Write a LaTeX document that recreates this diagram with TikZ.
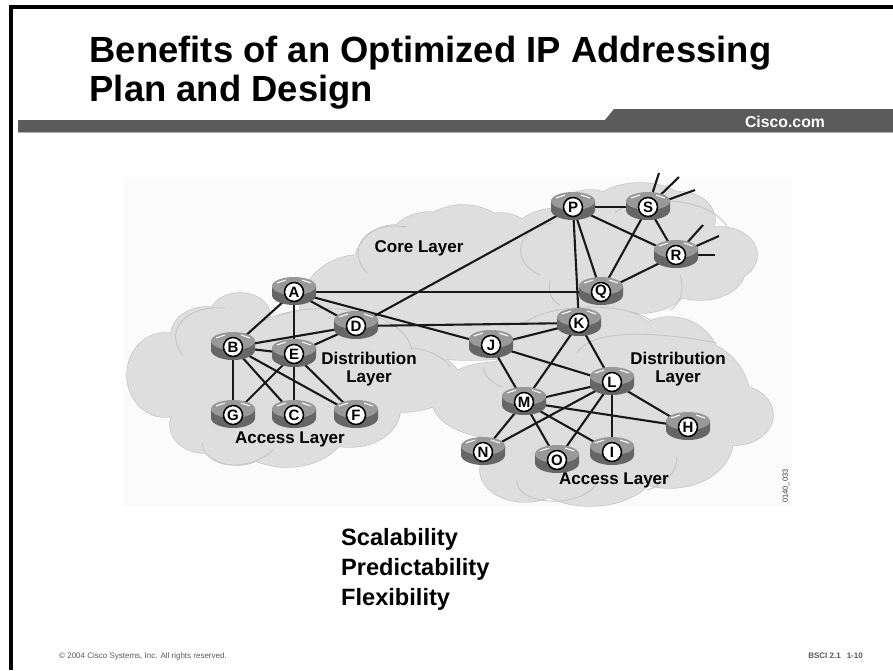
\documentclass[tikz,border=0pt]{standalone}
\usepackage{fontspec}
\setmainfont{Liberation Sans}
\pgfdeclarelayer{baselayer}
\pgfdeclarelayer{cloudlayer}
\pgfdeclarelayer{edgelayer}
\pgfsetlayers{baselayer,cloudlayer,edgelayer,main}
\definecolor{cloudfill}{HTML}{DEDEDE}
\definecolor{cloudline}{HTML}{C6C6C6}
\definecolor{barcol}{HTML}{5B5B5B}
\definecolor{routerbody}{HTML}{666666}
\definecolor{routertop}{HTML}{999999}
\definecolor{photobg}{HTML}{FBFBFB}
\newcommand{\fs}[1]{\fontsize{#1}{#1}\selectfont}
\tikzset{
  routerlabel/.style={circle,draw=black,line width=1.5pt,fill=white,inner sep=0pt,minimum size=19pt,font=\fs{15}\bfseries},
  linkline/.style={line width=2.1pt,black!90},
  layertext/.style={font=\fs{17}\bfseries,align=center,inner sep=0pt},
  listtext/.style={font=\fs{23.6}\bfseries,anchor=base west,inner sep=0pt},
  titletext/.style={font=\fs{36.4}\bfseries,anchor=base west,inner sep=0pt},
  arcline/.style={draw=cloudline,line width=0.9pt}
}
\newcommand{\router}[3]{%
  \fill[routerbody] (#1-22,#2-6) -- (#1-22,#2+3) arc[start angle=180,end angle=0,x radius=22,y radius=10] -- (#1+22,#2-6) -- cycle;
  \fill[routertop] (#1,#2-6) ellipse[x radius=22,y radius=9];
  \draw[white,line width=1pt] (#1-17,#2-9) -- (#1-8,#2-12) (#1+8,#2-12) -- (#1+17,#2-9);
  \node[routerlabel] (#3) at (#1,#2) {#3};
}
\def\clouddata{165/375/38/42,207/335/36/28,240/315/30/22,205/425/35/28,237/440/35/25,287/425/60/42,350/410/50/37,325/360/85/52,400/380/60/32,360/310/60/55,395/270/42/45,430/250/45/38,463/245/50/40,500/250/40/37,560/240/50/32,300/370/130/50,470/310/130/50,640/225/60/42,590/225/40/35,680/220/35/28,720/255/37/28,700/270/45/30,640/280/50/33,600/340/58/32,670/365/50/48,690/400/60/60,735/415/38/30,670/440/63/48,590/460/70/46,525/470/45/32,500/400/68/38,580/400/100/70,600/270/80/40}
\begin{document}
\begin{tikzpicture}[x=1pt,y=-1pt]
\useasboundingbox (0,0) rectangle (893,670);
\begin{pgfonlayer}{baselayer}
\fill[white] (0,0) rectangle (893,670);
\fill[photobg] (123,178) rectangle (792,506);
\end{pgfonlayer}
% frame
\fill[black] (9,5) rectangle (893,9);
\fill[black] (9,5) rectangle (13,670);
% bar
\fill[barcol] (18,120) -- (605,120) -- (614,109) -- (893,109) -- (893,132) -- (18,132) -- cycle;
\draw[gray!60,line width=0.8pt] (18,132.3) -- (893,132.3);
\node[titletext] (title1) at (89.5,62) {Benefits of an Optimized IP Addressing};
\node[titletext] (title2) at (89.5,101) {Plan and Design};
\node[font=\fs{15.8}\bfseries,text=white,inner sep=0pt] (cisco) at (785,122) {Cisco.com};
\begin{pgfonlayer}{cloudlayer}
\foreach \cx/\cy/\rx/\ry in \clouddata {\draw[cloudline,line width=1.4pt] (\cx,\cy) ellipse[x radius=\rx,y radius=\ry];}
\foreach \cx/\cy/\rx/\ry in \clouddata {\fill[cloudfill] (\cx,\cy) ellipse[x radius=\rx,y radius=\ry];}
\draw[arcline] (183,355) .. controls (165,335) and (180,305) .. (225,308);
\draw[arcline] (367,273) .. controls (345,250) and (365,220) .. (407,227);
\draw[arcline] (202,443) .. controls (205,470) and (250,472) .. (273,450);
\draw[arcline] (257,325) .. controls (290,300) and (400,300) .. (412,350);
\draw[arcline] (413,348) .. controls (430,350) and (445,358) .. (450,367);
\draw[arcline] (540,275) .. controls (510,262) and (515,228) .. (553,223);
\draw[arcline] (550,280) .. controls (548,290) and (550,300) .. (560,305);
\draw[arcline] (525,323) .. controls (545,305) and (620,300) .. (650,320);
\draw[arcline] (483,367) .. controls (485,378) and (495,385) .. (503,387);
\draw[arcline] (577,353) .. controls (590,330) and (650,330) .. (717,343);
\draw[arcline] (517,480) .. controls (515,505) and (580,510) .. (597,483);
\draw[arcline] (677,457) .. controls (678,470) and (665,485) .. (647,490);
\draw[arcline] (615,213) .. controls (635,195) and (710,195) .. (727,227);
\draw[arcline] (680,275) .. controls (685,290) and (680,305) .. (670,310);
\end{pgfonlayer}
% routers
\router{294}{292}{A}\router{233}{347}{B}\router{356}{326}{D}\router{294}{354}{E}
\router{233}{415}{G}\router{294}{415}{C}\router{356}{415}{F}
\router{573}{207}{P}\router{648}{207}{S}\router{676}{255}{R}\router{601}{292}{Q}
\router{579}{323}{K}\router{491}{345}{J}\router{612}{382}{L}\router{524}{402}{M}
\router{688}{427}{H}\router{483}{452}{N}\router{557}{460}{O}\router{612}{452}{I}
% free ends of the stubs
\coordinate (s1) at (659,173);\coordinate (s2) at (679,177);\coordinate (s3) at (695,190);
\coordinate (r1) at (703,225);\coordinate (r2) at (719,236);\coordinate (r3) at (715,255);
\begin{pgfonlayer}{edgelayer}
\foreach \a/\b in {A/B,A/E,A/D,A/Q,A/J,B/D,B/E,B/G,B/C,B/F,E/D,E/G,E/C,E/F,D/P,D/K,J/K,J/M,J/L,K/M,K/L,K/P,P/S,P/R,P/Q,S/Q,S/R,R/Q,L/M,L/N,L/O,L/I,L/H,M/N,M/O,M/I,M/H,S/s1,S/s2,S/s3,R/r1,R/r2,R/r3}
  \draw[linkline] (\a) -- (\b);
\end{pgfonlayer}
% labels
\node[layertext] (core) at (419,248) {Core Layer};
\node[layertext] (dist1) at (369,369) {Distribution\\[1pt]Layer};
\node[layertext] (dist2) at (678,369) {Distribution\\[1pt]Layer};
\node[layertext] (acc1) at (290,439) {Access Layer};
\node[layertext] (acc2) at (614,480) {Access Layer};
\node[listtext] (l1) at (341,545) {Scalability};
\node[listtext] (l2) at (341,575) {Predictability};
\node[listtext] (l3) at (341,605) {Flexibility};
\node[font=\fs{7.5},rotate=90,inner sep=0pt,text=black!75] (code) at (786,486) {0140\_033};
\node[font=\fs{8},text=black!65,anchor=west,inner sep=0pt] (copy) at (59,656) {© 2004 Cisco Systems, Inc. All rights reserved.};
\node[font=\fs{8}\bfseries,text=black!65,anchor=east,inner sep=0pt] (page) at (863,656) {BSCI 2.1\hspace{6pt}1-10};
\end{tikzpicture}
\end{document}
